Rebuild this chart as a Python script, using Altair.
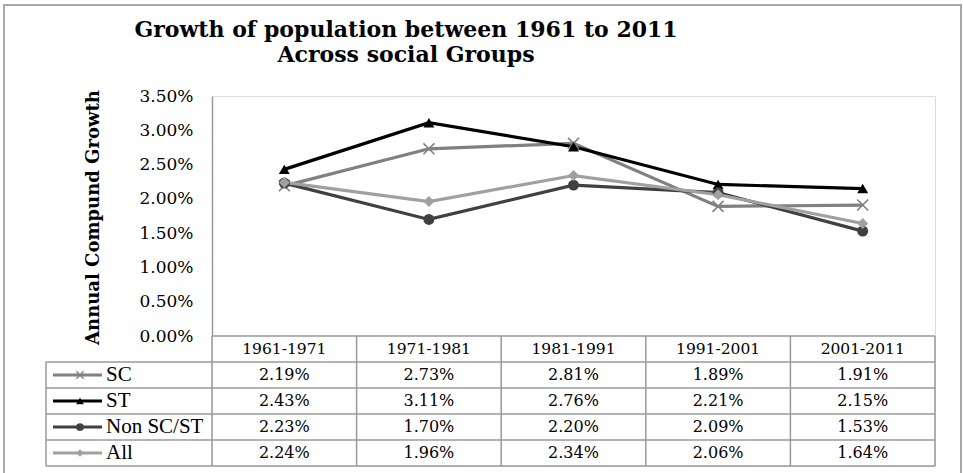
import altair as alt
import pandas as pd

# ---- data ----
periods = ["1961-1971", "1971-1981", "1981-1991", "1991-2001", "2001-2011"]
series = ["SC", "ST", "Non SC/ST", "All"]
sc_vals = [2.19, 2.73, 2.81, 1.89, 1.91]
st_vals = [2.43, 3.11, 2.76, 2.21, 2.15]
non_vals = [2.23, 1.70, 2.20, 2.09, 1.53]
all_vals = [2.24, 1.96, 2.34, 2.06, 1.64]
y_ticks = [0, 0.5, 1.0, 1.5, 2.0, 2.5, 3.0, 3.5]

colors = ["#808080", "#000000", "#404040", "#a0a0a0"]

rows = []
for s, vals in zip(series, [sc_vals, st_vals, non_vals, all_vals]):
    for p, v in zip(periods, vals):
        rows.append({"series": s, "period": p, "value": v})
df = pd.DataFrame(rows)
df_series = pd.DataFrame({"series": series})
df_header = pd.DataFrame({"period": periods, "row": ["header"] * len(periods)})

# ---- layout ----
W, H = 723, 370
PLOT_H = 240
GRID = "#9a9a9a"
SERIF = "DejaVu Serif"

x_scale = alt.Scale(type="band", domain=periods, paddingInner=0, paddingOuter=0)
y_scale = alt.Scale(domain=[0, 3.5], range=[PLOT_H, 0], nice=False, zero=True)
row_scale = alt.Scale(type="band", domain=["header"] + series, range=[PLOT_H, H],
                      paddingInner=0, paddingOuter=0)
color_scale = alt.Scale(domain=series, range=colors)
shape_scale = alt.Scale(domain=series, range=["M-1,-1L1,1M-1,1L1,-1", "triangle-up", "circle", "diamond"])

X = alt.X("period:N", scale=x_scale, axis=None)

# frame
frame = alt.Chart(df_series).mark_rect(filled=False, stroke="#a8a8a8", strokeWidth=2).encode(
    x=alt.value(-208), x2=alt.value(749), y=alt.value(-91), y2=alt.value(480)
).transform_filter(alt.datum.series == "SC")

# lines
lines = alt.Chart(df).mark_line(strokeWidth=3.2).encode(
    x=X,
    y=alt.Y("value:Q", scale=y_scale,
            axis=alt.Axis(values=y_ticks, labelExpr="format(datum.value, '.2f') + '%'",
                          ticks=False, grid=False, domainColor=GRID, domainWidth=1.5,
                          labelFont=SERIF, labelFontSize=17, labelColor="black", labelPadding=19,
                          title="Annual Compund Growth", titleFont=SERIF, titleFontSize=18,
                          titleFontWeight="bold", titleColor="black", titleAngle=-90,
                          titleX=-119, titleY=121, titleAlign="center", titleBaseline="middle")),
    color=alt.Color("series:N", scale=color_scale, legend=None),
    detail="series:N",
    order=alt.Order("period:N"),
)

pts_x = alt.Chart(df).mark_point(filled=False, strokeWidth=1.6, size=120, opacity=1).encode(
    x=X,
    y=alt.Y("value:Q", scale=y_scale, axis=None),
    color=alt.Color("series:N", scale=color_scale, legend=None),
    shape=alt.Shape("series:N", scale=shape_scale, legend=None),
).transform_filter(alt.datum.series == "SC")

pts = alt.Chart(df).mark_point(filled=True, size=120, opacity=1).encode(
    x=X,
    y=alt.Y("value:Q", scale=y_scale, axis=None),
    color=alt.Color("series:N", scale=color_scale, legend=None),
    shape=alt.Shape("series:N", scale=shape_scale, legend=None),
).transform_filter(alt.datum.series != "SC")

# ---- table ----
Yrow = alt.Y("series:N", scale=row_scale, axis=None)

header_top = alt.Chart(df_header).mark_rule(color=GRID, strokeWidth=1.5).encode(
    x=alt.value(0), x2=alt.value(W),
    y=alt.Y("row:N", scale=row_scale, axis=None, bandPosition=0),
).transform_filter(alt.datum.period == periods[0])

row_tops = alt.Chart(df_series).mark_rule(color=GRID, strokeWidth=1.5).encode(
    x=alt.value(-166), x2=alt.value(W),
    y=alt.Y("series:N", scale=row_scale, axis=None, bandPosition=0),
)
row_bottom = alt.Chart(df_series).mark_rule(color=GRID, strokeWidth=1.5).encode(
    x=alt.value(-166), x2=alt.value(W),
    y=alt.Y("series:N", scale=row_scale, axis=None, bandPosition=1),
).transform_filter(alt.datum.series == series[-1])

col_left = alt.Chart(df_header).mark_rule(color=GRID, strokeWidth=1.5).encode(
    x=alt.X("period:N", scale=x_scale, axis=None, bandPosition=0),
    y=alt.value(PLOT_H), y2=alt.value(H),
)
col_right = alt.Chart(df_header).mark_rule(color=GRID, strokeWidth=1.5).encode(
    x=alt.X("period:N", scale=x_scale, axis=None, bandPosition=1),
    y=alt.value(PLOT_H), y2=alt.value(H),
).transform_filter(alt.datum.period == periods[-1])

legend_left = alt.Chart(df_series).mark_rule(color=GRID, strokeWidth=1.5).encode(
    x=alt.value(-166),
    y=alt.Y("series:N", scale=row_scale, axis=None, bandPosition=0),
    y2=alt.value(H),
).transform_filter(alt.datum.series == series[0])

header_text = alt.Chart(df_header).mark_text(font=SERIF, fontSize=15.5, color="black", baseline="middle").encode(
    x=X,
    y=alt.Y("row:N", scale=row_scale, axis=None),
    text="period:N",
)

cell_text = alt.Chart(df).transform_calculate(
    label="format(datum.value, '.2f') + '%'"
).mark_text(font=SERIF, fontSize=16, color="black", baseline="middle").encode(
    x=X,
    y=Yrow,
    text="label:N",
)

leg_line = alt.Chart(df_series).mark_rule(strokeWidth=3).encode(
    x=alt.value(-159), x2=alt.value(-110),
    y=Yrow,
    color=alt.Color("series:N", scale=color_scale, legend=None),
)
leg_pts_x = alt.Chart(df_series).mark_point(filled=False, strokeWidth=1.4, size=55, opacity=1).encode(
    x=alt.value(-132),
    y=Yrow,
    color=alt.Color("series:N", scale=color_scale, legend=None),
    shape=alt.Shape("series:N", scale=shape_scale, legend=None),
).transform_filter(alt.datum.series == "SC")
leg_pts = alt.Chart(df_series).mark_point(filled=True, size=60, opacity=1).encode(
    x=alt.value(-132),
    y=Yrow,
    color=alt.Color("series:N", scale=color_scale, legend=None),
    shape=alt.Shape("series:N", scale=shape_scale, legend=None),
).transform_filter(alt.datum.series != "SC")
leg_text = alt.Chart(df_series).mark_text(font="Liberation Serif", fontSize=21, color="black",
                                          align="left", baseline="middle").encode(
    x=alt.value(-106),
    y=Yrow,
    text="series:N",
)

chart = alt.layer(
    frame, header_top, row_tops, row_bottom, col_left, col_right, legend_left,
    header_text, cell_text, leg_line, leg_pts_x, leg_pts, leg_text,
    lines, pts_x, pts,
).resolve_scale(y="independent").properties(
    width=W, height=H,
    autosize=alt.AutoSizeParams(type="none"),
    padding={"left": 212, "top": 96, "right": 28, "bottom": 7},
    title=alt.Title(
        ["Growth of population between 1961 to 2011", "Across social Groups"],
        anchor="start", frame="group", align="center", dx=194, offset=-63,
        font=SERIF, fontSize=22, fontWeight="bold", lineHeight=25, color="black",
    ),
).configure_view(strokeWidth=0).configure(background="white")

chart.save("out.html", embed_options={"renderer": "svg", "actions": False})
